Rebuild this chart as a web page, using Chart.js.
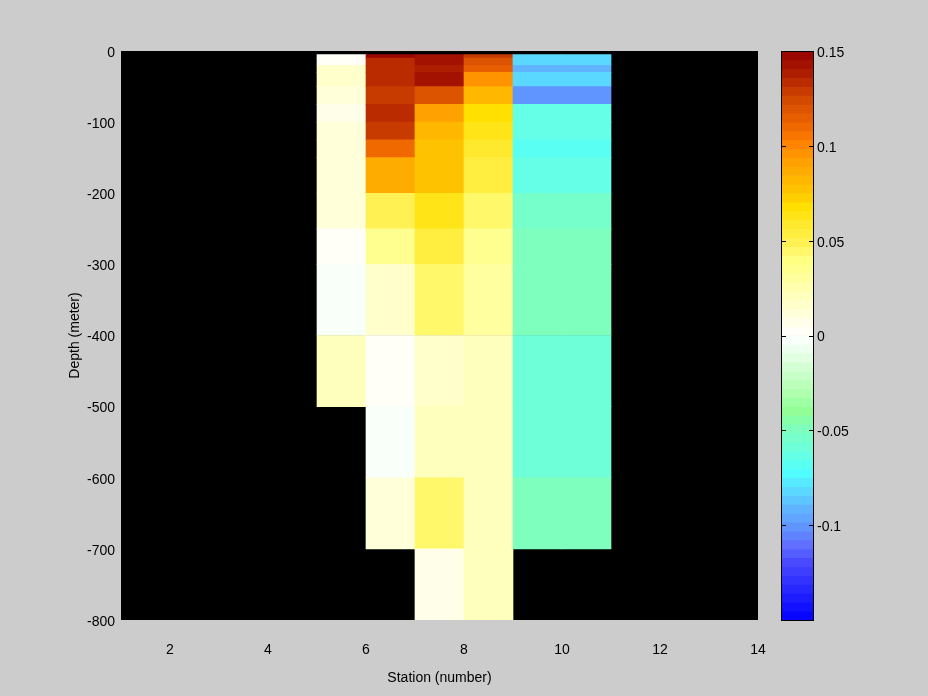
<!DOCTYPE html>
<html>
<head>
<meta charset="utf-8">
<script src="https://cdn.jsdelivr.net/npm/chart.js@4"></script>
<style>
  html, body { margin: 0; padding: 0; background: #cccccc; }
  #wrap { position: relative; width: 928px; height: 696px; }
  #wrap canvas { position: absolute; left: 0; top: 0; }
</style>
</head>
<body>
<div id="wrap">
  <canvas id="mainChart" width="928" height="696"></canvas>
  <canvas id="cbarChart" width="928" height="696"></canvas>
</div>
<script>
// Depth layer edges (m, positive down) and stations with data
const depthEdges = [5, 10, 20, 30, 50, 75, 100, 125, 150, 200, 250, 300, 400, 500, 600, 700, 800];
const stations = [5, 6, 7, 8, 9, 10];

// Values per station, one per depth layer (null = no data)
const st5  = [0.002, 0.002, 0.016, 0.016, 0.011, 0.007, 0.011, 0.011, 0.011, 0.011, 0.003, -0.004, 0.021, null, null, null];
const st6  = [0.146, 0.134, 0.134, 0.134, 0.127, 0.134, 0.127, 0.112, 0.088, 0.050, 0.037, 0.016, 0.003, -0.004, 0.011, null];
const st7  = [0.142, 0.142, 0.137, 0.142, 0.120, 0.091, 0.080, 0.075, 0.075, 0.064, 0.053, 0.043, 0.018, 0.022, 0.046, 0.007];
const st8  = [0.128, 0.121, 0.116, 0.095, 0.082, 0.066, 0.061, 0.057, 0.053, 0.043, 0.035, 0.030, 0.020, 0.020, 0.020, 0.020];
const st9  = [-0.080, -0.080, -0.090, -0.080, -0.102, -0.061, -0.061, -0.068, -0.065, -0.054, -0.051, -0.051, -0.057, -0.057, -0.049, null];
const st10 = [-0.080, -0.080, -0.090, -0.080, -0.102, -0.061, -0.061, -0.068, -0.065, -0.054, -0.051, -0.051, -0.057, -0.057, -0.049, null];
const stationValues = [st5, st6, st7, st8, st9, st10];

// Tick labels
const xTicks = [2, 4, 6, 8, 10, 12, 14];
const yTicks = [0, -100, -200, -300, -400, -500, -600, -700, -800];
const cbarTicks = [0.15, 0.1, 0.05, 0, -0.05, -0.1];

// Colour scale
const cmin = -0.15, cmax = 0.15, nColors = 64;
const cmapStops = [
  [-0.150, [0, 0, 255]], [-0.120, [72, 72, 255]], [-0.110, [96, 112, 255]],
  [-0.100, [96, 152, 255]], [-0.090, [96, 184, 255]], [-0.080, [88, 224, 255]],
  [-0.072, [80, 255, 255]], [-0.060, [108, 255, 220]], [-0.050, [124, 255, 192]],
  [-0.040, [144, 255, 150]], [-0.030, [176, 255, 176]], [-0.015, [216, 255, 216]],
  [0.000, [255, 255, 255]], [0.015, [255, 255, 208]], [0.030, [255, 255, 160]],
  [0.040, [255, 255, 128]], [0.050, [255, 240, 80]], [0.060, [255, 232, 40]],
  [0.068, [255, 224, 0]], [0.075, [255, 200, 0]], [0.085, [255, 176, 0]],
  [0.095, [255, 152, 0]], [0.102, [255, 128, 0]], [0.110, [240, 104, 0]],
  [0.118, [224, 88, 0]], [0.125, [208, 72, 0]], [0.132, [192, 48, 0]],
  [0.140, [168, 24, 0]], [0.150, [152, 0, 0]]
];

function interpColor(v) {
  for (let i = 1; i < cmapStops.length; i++) {
    const [v1, c1] = cmapStops[i];
    const [v0, c0] = cmapStops[i - 1];
    if (v <= v1) {
      const t = (v - v0) / (v1 - v0);
      const c = c0.map((a, k) => Math.round(a + (c1[k] - a) * t));
      return 'rgb(' + c.join(',') + ')';
    }
  }
  const last = cmapStops[cmapStops.length - 1][1];
  return 'rgb(' + last.join(',') + ')';
}

function colorFor(v) {
  const step = (cmax - cmin) / nColors;
  let k = Math.floor((v - cmin) / step);
  k = Math.max(0, Math.min(nColors - 1, k));
  return interpColor(cmin + (k + 0.5) * step);
}

// Build cells: each station's cell spans [s, s+1]
const cells = [];
const cellColors = [];
stations.forEach((s, si) => {
  stationValues[si].forEach((v, i) => {
    if (v === null) return;
    cells.push({ x: s + 0.5, y: [-depthEdges[i], -depthEdges[i + 1]] });
    cellColors.push(colorFor(v));
  });
});

const font = { family: '"Liberation Sans", Arial, sans-serif', size: 14 };

const blackArea = {
  id: 'blackArea',
  beforeDatasetsDraw(chart) {
    const { ctx, chartArea: a } = chart;
    ctx.save();
    ctx.fillStyle = '#000';
    ctx.fillRect(a.left, a.top, a.right - a.left, a.bottom - a.top);
    ctx.restore();
  }
};

new Chart(document.getElementById('mainChart'), {
  type: 'bar',
  data: {
    datasets: [{
      data: cells,
      backgroundColor: cellColors,
      borderWidth: 0,
      borderSkipped: false,
      barPercentage: 1,
      categoryPercentage: 1
    }]
  },
  options: {
    responsive: false,
    devicePixelRatio: 1,
    animation: false,
    layout: { padding: { left: 60, top: 51, right: 170, bottom: 0 } },
    plugins: { legend: { display: false }, tooltip: { enabled: false } },
    scales: {
      x: {
        type: 'linear', min: 1, max: 14, offset: false,
        grid: { display: false, drawTicks: false },
        border: { display: false },
        ticks: { color: '#000', font: font, padding: 22, maxRotation: 0, autoSkip: false },
        afterBuildTicks: s => { s.ticks = xTicks.map(v => ({ value: v })); },
        afterFit: s => { s.height = 76; },
        title: { display: true, text: 'Station (number)', color: '#000', font: font, padding: { top: 0, bottom: 9 } }
      },
      y: {
        type: 'linear', min: -800, max: 0,
        grid: { display: false, drawTicks: false },
        border: { display: false },
        ticks: { color: '#000', font: font, padding: 6, labelOffset: 2 },
        afterBuildTicks: s => { s.ticks = yTicks.map(v => ({ value: v })); },
        afterFit: s => { s.width = 61; },
        title: { display: true, text: 'Depth (meter)', color: '#000', font: font, padding: { top: 7, bottom: 0 } }
      }
    }
  },
  plugins: [blackArea]
});

// Colour bar bands
const cbarBands = [];
const cbarColors = [];
const bandStep = (cmax - cmin) / nColors;
for (let k = 0; k < nColors; k++) {
  const lo = cmin + k * bandStep;
  cbarBands.push({ x: 0.5, y: [lo, lo + bandStep] });
  cbarColors.push(interpColor(lo + bandStep / 2));
}

const cbarFrame = {
  id: 'cbarFrame',
  afterDatasetsDraw(chart) {
    const { ctx, chartArea: a } = chart;
    const yScale = chart.scales.y;
    ctx.save();
    ctx.strokeStyle = '#000';
    ctx.lineWidth = 1;
    ctx.beginPath();
    cbarTicks.forEach(v => {
      const py = Math.round(yScale.getPixelForValue(v)) + 0.5;
      ctx.moveTo(a.left, py); ctx.lineTo(a.left + 5, py);
      ctx.moveTo(a.right - 5, py); ctx.lineTo(a.right, py);
    });
    ctx.stroke();
    ctx.strokeRect(Math.round(a.left) + 0.5, Math.round(a.top) + 0.5,
      Math.round(a.right - a.left) - 1, Math.round(a.bottom - a.top));
    ctx.restore();
  }
};

new Chart(document.getElementById('cbarChart'), {
  type: 'bar',
  data: {
    datasets: [{
      data: cbarBands,
      backgroundColor: cbarColors,
      borderWidth: 0,
      borderSkipped: false,
      barPercentage: 1,
      categoryPercentage: 1
    }]
  },
  options: {
    responsive: false,
    devicePixelRatio: 1,
    animation: false,
    layout: { padding: { left: 781, top: 51, right: 74, bottom: 76 } },
    plugins: { legend: { display: false }, tooltip: { enabled: false } },
    scales: {
      x: {
        type: 'linear', min: 0, max: 1, offset: false, display: false,
        afterBuildTicks: s => { s.ticks = [{ value: 0 }, { value: 1 }]; }
      },
      y: {
        type: 'linear', position: 'right', min: cmin, max: cmax,
        grid: { display: false, drawTicks: false },
        border: { display: false },
        ticks: { color: '#000', font: font, padding: 3, labelOffset: 2, callback: v => String(v) },
        afterBuildTicks: s => { s.ticks = cbarTicks.map(v => ({ value: v })); },
        afterFit: s => { s.width = 40; }
      }
    }
  },
  plugins: [cbarFrame]
});
</script>
</body>
</html>
